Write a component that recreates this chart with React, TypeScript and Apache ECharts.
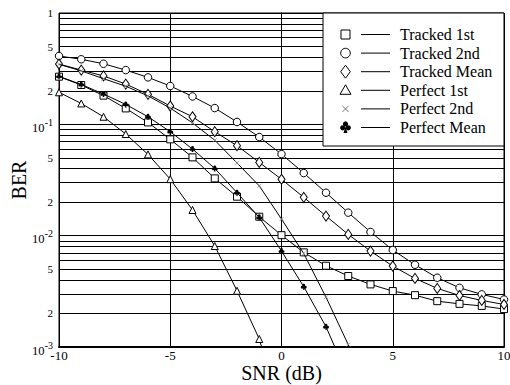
import React, { useEffect, useRef } from 'react';
import * as echarts from 'echarts';

const snr = [-10, -9, -8, -7, -6, -5, -4, -3, -2, -1, 0, 1, 2, 3, 4, 5, 6, 7, 8, 9, 10];

const trackedFirst = [0.268, 0.2255, 0.181, 0.139, 0.104, 0.0733, 0.0505, 0.0327, 0.0224, 0.0148, 0.0101, 0.00708, 0.00537, 0.00434, 0.00365, 0.00318, 0.00292, 0.00258, 0.00244, 0.00234, 0.00219];
const trackedSecond = [0.411, 0.384, 0.35, 0.307, 0.264, 0.221, 0.178, 0.14, 0.105, 0.0769, 0.054, 0.0365, 0.0243, 0.0161, 0.0108, 0.00743, 0.00548, 0.00419, 0.0034, 0.00297, 0.00267];
const trackedMean = [0.348, 0.307, 0.272, 0.23, 0.186, 0.146, 0.117, 0.0859, 0.0643, 0.0455, 0.0321, 0.0221, 0.015, 0.01026, 0.00727, 0.00533, 0.00413, 0.00336, 0.0029, 0.00262, 0.00241];
const perfectFirst = [0.194, 0.154, 0.117, 0.0818, 0.0537, 0.0322, 0.017, 0.00807, 0.0032, 0.00118, 0.00025];
const perfectSecond = [0.346, 0.302, 0.257, 0.22, 0.18, 0.14, 0.103, 0.072, 0.045, 0.028, 0.0141, 0.0069, 0.0028, 0.00105, 0.00015];
const perfectMean = [0.27, 0.228, 0.187, 0.151, 0.117, 0.0859, 0.06, 0.0402, 0.0243, 0.0146, 0.00727, 0.00348, 0.00152, 0.00053, 0.000075];

const seriesNames = ['Tracked 1st', 'Tracked 2nd', 'Tracked Mean', 'Perfect 1st', 'Perfect 2nd', 'Perfect Mean'];

const xTicks = [-10, -5, 0, 5, 10];
const yLabelValues = [1, 0.5, 0.2, 0.1, 0.05, 0.02, 0.01, 0.005, 0.002, 0.001];
const yGridValues: number[] = [];
for (const e of [-3, -2, -1]) {
  for (let k = 1; k <= 9; k++) yGridValues.push(Number((k * Math.pow(10, e)).toPrecision(3)));
}
yGridValues.push(1);

const xTitle = 'SNR (dB)';
const yTitle = 'BER';

const FAMILY = 'Liberation Serif';
const CLUB_D = 'M28,30 A22,22 0 1,0 72,30 A22,22 0 1,0 28,30 Z M4,62 A22,22 0 1,0 48,62 A22,22 0 1,0 4,62 Z M52,62 A22,22 0 1,0 96,62 A22,22 0 1,0 52,62 Z M50,50 L36,100 L64,100 Z';

function pairs(ys: number[]) {
  return ys.map((y, i) => [snr[i], y]);
}

export default function App() {
  const ref = useRef<HTMLDivElement>(null);
  useEffect(() => {
    if (!ref.current) return;
    const chart = echarts.init(ref.current, undefined, { renderer: 'svg' });

    const hollow = { color: '#fff', borderColor: '#000', borderWidth: 1 };
    const line = { color: '#000', width: 1 };
    const mk = (name: string, data: number[], symbol: string, size: any, itemStyle: any, z: number) => ({
      name,
      type: 'line',
      data: pairs(data),
      symbol,
      symbolSize: size,
      showSymbol: true,
      itemStyle,
      lineStyle: line,
      z,
      clip: true,
      silent: true,
    });

    const gridLeft = 59;
    const gridTop = 13;
    const gridRight = 6;
    const gridBottom = 38;

    const option: any = {
      animation: false,
      backgroundColor: '#fff',
      grid: {
        left: gridLeft,
        right: gridRight,
        top: gridTop,
        bottom: gridBottom,
        show: true,
        borderColor: '#000',
        borderWidth: 1,
        backgroundColor: 'transparent',
        containLabel: false,
        outerBoundsMode: 'none',
      },
      xAxis: {
        type: 'value',
        min: -10,
        max: 10,
        interval: 5,
        axisLine: { show: true, lineStyle: { color: '#000', width: 2 } },
        axisTick: { show: false },
        axisLabel: { show: false },
        splitLine: { show: true, lineStyle: { color: '#000', width: 1 } },
      },
      yAxis: {
        type: 'log',
        logBase: 10,
        min: 0.001,
        max: 1,
        axisLine: { show: true, lineStyle: { color: '#000', width: 1 } },
        axisTick: { show: false, customValues: yGridValues },
        axisLabel: { show: false, customValues: yLabelValues },
        splitLine: { show: true, lineStyle: { color: '#000', width: 1 } },
      },
      series: [
        mk(seriesNames[0], trackedFirst, 'rect', 7, hollow, 3),
        mk(seriesNames[1], trackedSecond, 'circle', 7.5, hollow, 3),
        mk(seriesNames[2], trackedMean, 'diamond', [7, 10], hollow, 3),
        mk(seriesNames[3], perfectFirst, 'triangle', 7, hollow, 3),
        mk(seriesNames[4], perfectSecond, 'path://M0,0 L10,10 M10,0 L0,10', 4, { color: 'none', borderColor: '#888', borderWidth: 0.8 }, 4),
        mk(seriesNames[5], perfectMean, 'path://' + CLUB_D, 6, { color: '#000', borderColor: '#000', borderWidth: 0 }, 4),
      ],
    };
    chart.setOption(option);

    const W = 510;
    const H = 385;
    const plotW = W - gridLeft - gridRight;
    const plotH = H - gridTop - gridBottom;
    const px = (x: number) => {
      const p = chart.convertToPixel({ xAxisIndex: 0 } as any, x) as any;
      return typeof p === 'number' && isFinite(p) ? p : gridLeft + ((x + 10) / 20) * plotW;
    };
    const py = (v: number) => {
      const p = chart.convertToPixel({ yAxisIndex: 0 } as any, v) as any;
      return typeof p === 'number' && isFinite(p) ? p : gridTop + (-Math.log10(v) / 3) * plotH;
    };
    const axisBottom = H - gridBottom;

    const els: any[] = [];
    const txt = (text: string, x: number, y: number, size: number, align: string, vAlign: string, extra: any = {}) => ({
      type: 'text',
      x,
      y,
      style: { text, fontFamily: FAMILY, fontSize: size, fill: '#000', align, verticalAlign: vAlign },
      z: 50,
      silent: true,
      ...extra,
    });

    // x tick labels
    xTicks.forEach((t) => {
      els.push(txt(String(t), px(t), axisBottom + 2, 13, 'center', 'top'));
    });
    // y tick labels
    const labelRight = gridLeft - 6;
    yLabelValues.forEach((v) => {
      const e = Math.floor(Math.log10(v) + 1e-9);
      const m = Math.round(v / Math.pow(10, e));
      const y = py(v);
      if (m === 1 && e !== 0) {
        els.push(txt(String(e), labelRight, y - 2, 10, 'right', 'middle'));
        els.push(txt('10', labelRight - 8.5, y + 3.5, 12.5, 'right', 'middle'));
      } else {
        els.push(txt(String(m), labelRight, y, 11, 'right', 'middle'));
      }
    });
    // axis titles
    els.push(txt(xTitle, gridLeft + plotW / 2, axisBottom + 26, 20, 'center', 'middle'));
    els.push(txt(yTitle, 19, gridTop + plotH / 2, 20, 'center', 'middle', { rotation: Math.PI / 2 }));

    // legend
    const rowY = (i: number) => 34.5 + i * 18.6;
    els.push({
      type: 'rect',
      shape: { x: 323, y: 13, width: 181, height: 133 },
      style: { fill: '#fff', stroke: '#000', lineWidth: 1 },
      z: 100,
    });
    seriesNames.forEach((n, i) => {
      const y = rowY(i);
      els.push({
        type: 'line',
        shape: { x1: 361, y1: y, x2: 390, y2: y },
        style: { stroke: '#000', lineWidth: 1 },
        z: 101,
      });
      els.push({
        type: 'text',
        x: 400,
        y,
        style: { text: n, fontFamily: FAMILY, fontSize: 16, fill: '#000', verticalAlign: 'middle', align: 'left' },
        z: 101,
      });
    });
    const sx = 345.5;
    const symStroke = { fill: 'none', stroke: '#000', lineWidth: 1 };
    const cy = rowY(5);
    els.push({ type: 'rect', shape: { x: sx - 4.5, y: rowY(0) - 4.5, width: 9, height: 9 }, style: symStroke, z: 101 });
    els.push({ type: 'circle', shape: { cx: sx, cy: rowY(1), r: 4.8 }, style: symStroke, z: 101 });
    els.push({ type: 'polygon', shape: { points: [[sx, rowY(2) - 6.5], [sx + 4.8, rowY(2)], [sx, rowY(2) + 6.5], [sx - 4.8, rowY(2)]] }, style: symStroke, z: 101 });
    els.push({ type: 'polygon', shape: { points: [[sx, rowY(3) - 5.5], [sx + 5.5, rowY(3) + 4], [sx - 5.5, rowY(3) + 4]] }, style: symStroke, z: 101 });
    els.push({ type: 'line', shape: { x1: sx - 3.2, y1: rowY(4) - 3.2, x2: sx + 3.2, y2: rowY(4) + 3.2 }, style: { stroke: '#555', lineWidth: 0.8 }, z: 101 });
    els.push({ type: 'line', shape: { x1: sx + 3.2, y1: rowY(4) - 3.2, x2: sx - 3.2, y2: rowY(4) + 3.2 }, style: { stroke: '#555', lineWidth: 0.8 }, z: 101 });
    els.push({ type: 'circle', shape: { cx: sx, cy: cy - 3.6, r: 2.6 }, style: { fill: '#000' }, z: 101 });
    els.push({ type: 'circle', shape: { cx: sx - 2.8, cy: cy + 0.3, r: 2.6 }, style: { fill: '#000' }, z: 101 });
    els.push({ type: 'circle', shape: { cx: sx + 2.8, cy: cy + 0.3, r: 2.6 }, style: { fill: '#000' }, z: 101 });
    els.push({ type: 'polygon', shape: { points: [[sx, cy - 1], [sx - 2, cy + 5.5], [sx + 2, cy + 5.5]] }, style: { fill: '#000' }, z: 101 });

    chart.setOption({ graphic: { elements: els } });

    return () => {
      chart.dispose();
    };
  }, []);
  return <div ref={ref} style={{ position: 'fixed', left: 0, top: 0, width: 510, height: 385 }} />;
}
